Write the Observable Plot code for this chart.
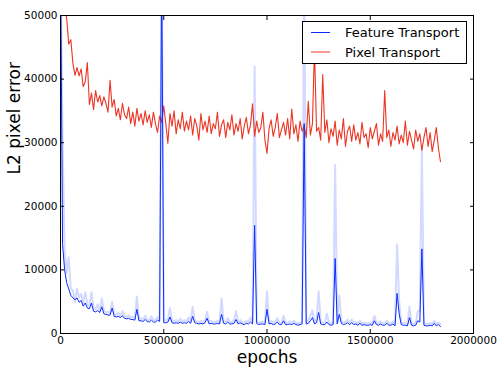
<!DOCTYPE html>
<html><head><meta charset="utf-8">
<script src="https://cdn.jsdelivr.net/npm/d3@7"></script>
<script src="https://cdn.jsdelivr.net/npm/@observablehq/plot@0.6"></script>
<style>body{margin:0;background:#fff;} #chart{width:500px;height:371px;}</style>
</head><body><div id="chart"></div>
<script>
// epochs grid: feature series sampled every 10000 epochs from 0, pixel series from 20000
const featureStart = 0;
const pixelStart = 20000;
const epochStep = 10000;

// Feature Transport (smoothed, dark blue)
const featureTransport = [
  60000, 14000, 10000, 8000, 7000, 6000, 5600, 5300, 5600, 4900,
  5200, 4300, 4800, 4000, 3900, 4800, 3500, 3400, 3600, 3300,
  4200, 3100, 3000, 2900, 2900, 4000, 2700, 2600, 2700, 2500,
  2800, 2400, 2300, 2400, 2200, 2200, 2100, 3800, 2000, 2000,
  1900, 2200, 1900, 1800, 2100, 1800, 1800, 2100, 1900, 58000,
  1700, 1700, 1800, 2600, 1700, 1600, 1700, 1600, 1800, 1600,
  1700, 1600, 1900, 1600, 2700, 1700, 1600, 1500, 1600, 1500,
  1700, 2400, 1500, 1600, 1500, 1500, 1600, 1500, 3000, 1600,
  1500, 1800, 1500, 1500, 1600, 2200, 1500, 1700, 1500, 1400,
  1600, 1500, 1800, 1500, 17000, 1600, 1400, 1500, 1500, 1400,
  3800, 1500, 1600, 1400, 1500, 1800, 1400, 1400, 2000, 1400,
  1400, 1500, 1400, 1600, 1400, 1300, 1400, 1500, 33000, 1500,
  1600, 2000, 2500, 1500, 1700, 3300, 1500, 1400, 1400, 1800,
  1400, 1300, 1400, 11800, 1500, 3000, 1600, 1400, 1500, 1700,
  1400, 1700, 1400, 1500, 1300, 1600, 1300, 1400, 1300, 1300,
  1400, 1300, 2000, 1400, 1300, 1500, 1300, 1300, 1600, 1300,
  1300, 1500, 1200, 6300, 3100, 1400, 1300, 1300, 1200, 2500,
  1300, 1200, 1300, 2000, 1800, 13300, 1300, 1200, 1200, 1300,
  1200, 1600, 1200, 1400, 1100
];

// Feature Transport (raw, light blue)
const featureTransportRaw = [
  60000, 30000, 13000, 9500, 12000, 7000, 6800, 5000, 7000, 5600,
  6200, 4800, 6500, 4500, 4400, 6500, 4000, 3800, 4600, 3600,
  5500, 3600, 3300, 3400, 3200, 5000, 3100, 2900, 3300, 2800,
  3500, 2700, 2600, 2900, 2500, 2600, 2400, 5800, 2300, 2400,
  2200, 2800, 2200, 2100, 2700, 2100, 2100, 2600, 2300, 60000,
  2000, 2100, 2200, 4000, 2000, 1900, 2100, 1900, 2300, 1900,
  2100, 1900, 2500, 1900, 4200, 2000, 1900, 1800, 2000, 1800,
  2100, 3400, 1800, 2000, 1800, 1800, 2000, 1800, 5500, 1900,
  1800, 2400, 1800, 1800, 2000, 3500, 1800, 2100, 1800, 1700,
  2000, 1800, 2500, 1800, 42000, 1900, 1700, 1800, 1800, 1700,
  6600, 1800, 2000, 1700, 1800, 2400, 1700, 1700, 2800, 1700,
  1700, 1900, 1700, 2000, 1700, 1600, 1700, 1900, 60000, 1800,
  2000, 2800, 3600, 1800, 2200, 6600, 1800, 1700, 1700, 3100,
  1700, 1600, 1700, 26500, 1900, 6000, 2000, 1700, 1800, 2200,
  1700, 2200, 1700, 1800, 1600, 2000, 1600, 1700, 1600, 1600,
  1700, 1600, 2800, 1700, 1600, 1900, 1600, 1600, 2000, 1600,
  1600, 1900, 1500, 14000, 5000, 1700, 1600, 1600, 1500, 4200,
  1600, 1500, 1600, 3500, 3500, 29000, 1600, 1500, 1500, 1600,
  1500, 2000, 1500, 1700, 1400
];

// Pixel Transport (red)
const pixelTransport = [
  51000, 49500, 45500, 46200, 42500, 40600, 41800, 40500, 41600, 38800,
  39600, 42600, 36000, 37800, 35200, 38200, 36400, 37400, 35800, 37200,
  36200, 34800, 39800, 35600, 36800, 34200, 35400, 33600, 36200, 34400,
  33800, 35600, 33000, 34800, 32600, 35400, 33400, 34600, 32800, 35000,
  33200, 34400, 32400, 34800, 33000, 31600, 34200, 33200, 35800, 33000,
  29900, 34600, 32600, 35000, 31400, 33600, 32200, 34800, 31800, 33400,
  32000, 34200, 31200, 33800, 32600, 30400, 34600, 32000, 33400, 31600,
  34200, 31400, 33000, 32200, 34800, 31000, 32800, 33600, 30800, 33200,
  32000, 34400, 31200, 33000, 31800, 33800, 30600, 32600, 34000, 31400,
  32800, 36100, 31000, 33400, 31600, 32400, 34800, 30400, 28300, 32200,
  33600, 31000, 32400, 34600, 30800, 32000, 33200, 31200, 33800, 30600,
  35300, 31400, 32800, 30200, 33400, 31800, 32600, 30800, 36500, 31200,
  33000, 45000, 31800, 32400, 30400, 40700, 31600, 33600, 30000, 32200,
  31000, 33400, 29600, 32000, 30600, 33800, 29400, 31800, 32600, 30200,
  32800, 30400, 31600, 29800, 33200, 30800, 31400, 29200, 32400, 30600,
  31800, 33000, 29600, 31400, 30200, 38200, 30800, 32000, 29400, 31600,
  30400, 32600, 29800, 31200, 30000, 33400, 29600, 31800, 30400, 29000,
  32000, 30200, 31400, 28800, 30800, 32400, 29400, 31600, 28600, 30400,
  32400, 29200, 27000
];

const seriesNames = ["Feature Transport", "Pixel Transport"];
const xTicks = [0, 500000, 1000000, 1500000, 2000000];
const yTicks = [0, 10000, 20000, 30000, 40000, 50000];
const xDomain = [0, 2000000];
const yDomain = [0, 50000];
const xLabel = "epochs";
const yLabel = "L2 pixel error";

const blue = "#0a2cff";
const red = "#ec3524";

const featureRows = featureTransport.map((v, i) => ({epoch: featureStart + i * epochStep, value: v}));
const featureRawRows = featureTransportRaw.map((v, i) => ({epoch: featureStart + i * epochStep, value: v}));
const pixelRows = pixelTransport.map((v, i) => ({epoch: pixelStart + i * epochStep, value: v}));

const plot = Plot.plot({
  width: 500, height: 371,
  marginLeft: 60, marginRight: 27, marginTop: 15, marginBottom: 38,
  style: {fontFamily: "DejaVu Sans", fontSize: "10.5px", color: "black", background: "white"},
  x: {domain: xDomain},
  y: {domain: yDomain},
  marks: [
    Plot.line(featureRawRows, {x: "epoch", y: "value", stroke: blue, strokeOpacity: 0.18, strokeWidth: 2, clip: true}),
    Plot.line(pixelRows, {x: "epoch", y: "value", stroke: red, strokeWidth: 1.1, clip: true}),
    Plot.line(featureRows, {x: "epoch", y: "value", stroke: blue, strokeWidth: 1, clip: true}),
    Plot.frame({stroke: "black", strokeWidth: 1}),
    Plot.axisX(xTicks, {anchor: "bottom", tickSize: -4, tickPadding: 7, tickFormat: d => String(d), label: null}),
    Plot.axisX(xTicks, {anchor: "top", tickSize: -4, tickFormat: () => "", label: null}),
    Plot.axisY(yTicks, {anchor: "left", tickSize: -4, tickPadding: 7, tickFormat: d => String(d), label: null}),
    Plot.axisY(yTicks, {anchor: "right", tickSize: -4, tickFormat: () => "", label: null}),
    Plot.text([xLabel], {frameAnchor: "bottom", dy: 29, fontSize: 17}),
    Plot.text([yLabel], {frameAnchor: "left", dx: -46, rotate: -90, fontSize: 17})
  ]
});

// legend box (upper right, matplotlib style)
const svg = d3.select(plot);
const lg = svg.append("g").attr("font-family", "DejaVu Sans").attr("font-size", 13).attr("text-anchor", "start");
lg.append("rect").attr("x", 302.5).attr("y", 21.5).attr("width", 164).attr("height", 42)
  .attr("fill", "white").attr("stroke", "black").attr("stroke-width", 1);
[blue, red].forEach((c, i) => {
  const y = 32.5 + i * 19.5;
  lg.append("line").attr("x1", 311).attr("x2", 330).attr("y1", y).attr("y2", y)
    .attr("stroke", c).attr("stroke-width", 1);
  lg.append("text").attr("x", 345).attr("y", y).attr("dy", "0.36em").attr("text-anchor", "start")
    .attr("fill", "black").text(seriesNames[i]);
});

document.getElementById("chart").appendChild(plot);
</script>
</body></html>
